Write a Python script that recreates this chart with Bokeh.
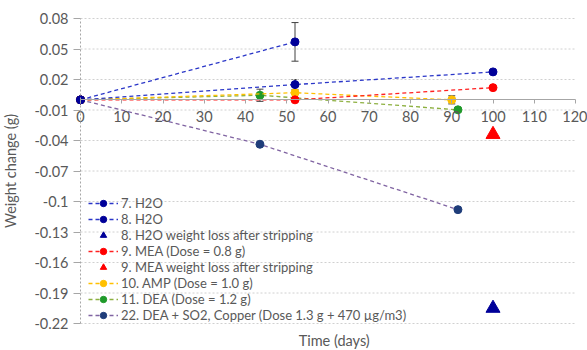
from bokeh.plotting import figure
from bokeh.models import (ColumnDataSource, FixedTicker, Legend, LegendItem, Whisker, TeeHead,
                          Range1d, Label)
from bokeh.embed import file_html
from bokeh.resources import INLINE

# ---- data ----
h2o7_x = [0, 52]
h2o7_y = [0.0, 0.057]
h2o7_err = [0.0, 0.019]

h2o8_x = [0, 52, 100]
h2o8_y = [0.0, 0.015, 0.0275]
h2o8_err = [0.0, 0.005, 0.0]

h2o8_strip_x = [100]
h2o8_strip_y = [-0.205]

mea_x = [0, 52, 100]
mea_y = [0.0, 0.0, 0.012]

mea_strip_x = [100]
mea_strip_y = [-0.034]

amp_x = [0, 52, 90]
amp_y = [0.0, 0.007, 0.0]
amp_err = [0.0, 0.0, 0.004]

dea_x = [0, 43.5, 91.5]
dea_y = [0.0, 0.0045, -0.0098]
dea_err = [0.0, 0.006, 0.002]

so2_x = [0, 43.5, 91.5]
so2_y = [0.0, -0.0437, -0.108]

x_ticks = [0, 10, 20, 30, 40, 50, 60, 70, 80, 90, 100, 110, 120]
y_ticks = [0.08, 0.05, 0.02, -0.01, -0.04, -0.07, -0.1, -0.13, -0.16, -0.19, -0.22]
y_tick_labels = ["0.08", "0.05", "0.02", "-0.01", "-0.04", "-0.07", "-0.1", "-0.13", "-0.16", "-0.19", "-0.22"]

labels = ["7. H2O", "8. H2O", "8. H2O weight loss after stripping", "9. MEA (Dose = 0.8 g)",
          "9. MEA weight loss after stripping", "10. AMP (Dose = 1.0 g)", "11. DEA (Dose = 1.2 g)",
          "22. DEA + SO2, Copper (Dose 1.3 g + 470 \u00b5g/m3)"]

FONT = "Lato"
TXT = "#595959"

X0, X1 = 0, 120
Y0, Y1 = -0.22, 0.08
W, H = 587, 350
PL, PR, PT, PB = 80, 12, 18, 27   # plot-area insets in pixels
sx = (X1 - X0) / (W - PL - PR)
sy = (Y1 - Y0) / (H - PT - PB)

p = figure(width=W, height=H, output_backend="svg", toolbar_location=None,
           x_range=Range1d(X0 - PL * sx, X1 + PR * sx),
           y_range=Range1d(Y0 - PB * sy, Y1 + PT * sy),
           min_border=0)
p.outline_line_color = None
p.background_fill_color = "white"
p.xgrid.visible = False
p.ygrid.visible = False

# horizontal dotted gridlines, limited to the plot area
p.segment(x0=[X0] * len(y_ticks), x1=[X1] * len(y_ticks), y0=y_ticks, y1=y_ticks,
          line_color="#d0d0d0", line_dash="2 2", line_width=1)

# x axis crossing at y = 0
p.xaxis.fixed_location = 0
p.xaxis.bounds = (X0, X1)
p.xaxis.ticker = FixedTicker(ticks=x_ticks)
p.xaxis.axis_line_color = "#a6a6a6"
p.xaxis.major_tick_line_color = "#a6a6a6"
p.xaxis.major_tick_out = 4
p.xaxis.major_tick_in = 0
p.xaxis.minor_tick_line_color = None
p.xaxis.major_label_text_font = FONT
p.xaxis.major_label_text_font_size = "14.5px"
p.xaxis.major_label_text_color = TXT
p.xaxis.major_label_standoff = 7

# y axis at x = 0
p.yaxis.fixed_location = 0
p.yaxis.bounds = (Y0, Y1)
p.yaxis.ticker = FixedTicker(ticks=y_ticks)
p.yaxis.major_label_overrides = {t: l for t, l in zip(y_ticks, y_tick_labels)}
p.yaxis.axis_line_color = "#a6a6a6"
p.yaxis.axis_line_dash = "2 2"
p.yaxis.major_tick_line_color = "#a6a6a6"
p.yaxis.major_tick_out = 7
p.yaxis.major_tick_in = 0
p.yaxis.minor_tick_line_color = None
p.yaxis.major_label_standoff = 5
p.yaxis.major_label_text_font = FONT
p.yaxis.major_label_text_font_size = "14.5px"
p.yaxis.major_label_text_color = TXT
p.yaxis.axis_label = "Weight change (g)"
p.yaxis.axis_label_text_font = FONT
p.yaxis.axis_label_text_font_size = "14.5px"
p.yaxis.axis_label_text_font_style = "normal"
p.yaxis.axis_label_text_color = TXT
p.yaxis.axis_label_standoff = 12

p.add_layout(Label(x=61.5, y=Y0, y_offset=-8, text="Time (days)", text_align="center",
                   text_baseline="top", text_font=FONT, text_font_size="14.5px", text_color=TXT))

DASH = "4 3"

def series(x, y, lc, mc, size=8):
    r1 = p.line(x, y, line_color=lc, line_dash=DASH, line_width=1.3)
    r2 = p.scatter(x, y, marker="circle", size=size, fill_color=mc, line_color=mc)
    return [r1, r2]

def errs(x, y, e):
    src = ColumnDataSource(dict(x=x, lo=[a - b for a, b in zip(y, e)], hi=[a + b for a, b in zip(y, e)]))
    w = Whisker(source=src, base="x", upper="hi", lower="lo", line_color="#404040", line_width=1,
                upper_head=TeeHead(size=7, line_color="#404040"),
                lower_head=TeeHead(size=7, line_color="#404040"))
    p.add_layout(w)

errs([h2o7_x[1]], [h2o7_y[1]], [h2o7_err[1]])
errs([h2o8_x[1]], [h2o8_y[1]], [h2o8_err[1]])
errs([amp_x[2]], [amp_y[2]], [amp_err[2]])
errs(dea_x[1:], dea_y[1:], dea_err[1:])

r_so2 = series(so2_x, so2_y, "#8064a2", "#1f3d7a")
r_dea = series(dea_x, dea_y, "#8db040", "#1f9a2a")
r_amp = series(amp_x, amp_y, "#ffc000", "#ffc000")
r_mea = series(mea_x, mea_y, "#ff2020", "#ff0000")
r_h8 = series(h2o8_x, h2o8_y, "#2a36c8", "#000099")
r_h7 = series(h2o7_x, h2o7_y, "#2a36c8", "#000099")
r_h8s = [p.scatter(h2o8_strip_x, h2o8_strip_y, marker="triangle", size=14, fill_color="#000099", line_color="#000099")]
r_meas = [p.scatter(mea_strip_x, mea_strip_y, marker="triangle", size=14, fill_color="#ff0000", line_color="#ff0000")]

items = [LegendItem(label=l, renderers=r) for l, r in zip(labels, [r_h7, r_h8, r_h8s, r_mea, r_meas, r_amp, r_dea, r_so2])]
leg = Legend(items=items, location=(PL + 8, PB), label_text_font=FONT, label_text_font_size="13px",
             label_text_color=TXT, background_fill_alpha=0, border_line_color=None,
             spacing=0, label_height=16, glyph_height=16, glyph_width=30, padding=2, margin=0,
             label_standoff=3)
p.add_layout(leg, "center")

open("out.html", "w").write(file_html(p, INLINE))
